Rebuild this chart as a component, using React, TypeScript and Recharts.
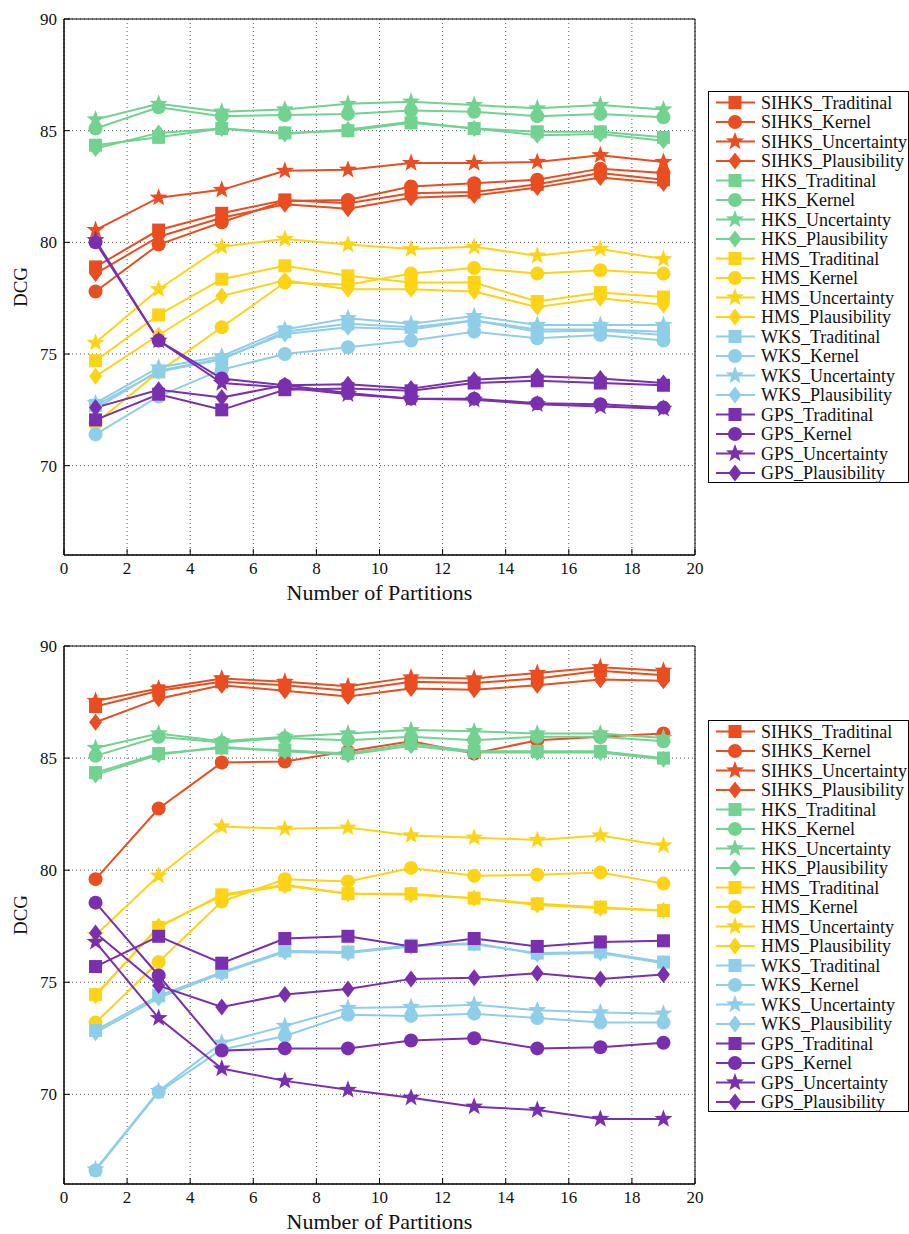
import { LineChart, Line, XAxis, YAxis, CartesianGrid, ReferenceArea, Legend } from 'recharts';

type Shape = 'square' | 'circle' | 'star' | 'diamond';

const X_VALUES = [1, 3, 5, 7, 9, 11, 13, 15, 17, 19];
const X_TICKS = [0, 2, 4, 6, 8, 10, 12, 14, 16, 18, 20];
const Y_TICKS = [70, 75, 80, 85, 90];
const Y_DOMAIN = [66, 90];

const METHODS = ['SIHKS', 'HKS', 'HMS', 'WKS', 'GPS'];
const VARIANTS = ['Traditinal', 'Kernel', 'Uncertainty', 'Plausibility'];
const SHAPES: Shape[] = ['square', 'circle', 'star', 'diamond'];
const COLORS = ['#E94D20', '#72D290', '#FCD415', '#8FCEE9', '#7A2FAE'];

const FONT = '"Liberation Serif", "Times New Roman", serif';

// rows: Traditinal, Kernel, Uncertainty, Plausibility
const TOP_SIHKS = [
  [78.9, 80.55, 81.3, 81.9, 81.75, 82.2, 82.25, 82.6, 83.1, 82.8],
  [77.8, 79.9, 80.9, 81.85, 81.9, 82.5, 82.65, 82.8, 83.3, 83.1],
  [80.55, 82.0, 82.35, 83.2, 83.25, 83.55, 83.55, 83.6, 83.9, 83.6],
  [78.6, 80.25, 81.1, 81.7, 81.5, 82.0, 82.1, 82.45, 82.9, 82.65],
];
const TOP_HKS = [
  [84.35, 84.7, 85.1, 84.9, 85.0, 85.35, 85.1, 84.95, 84.95, 84.7],
  [85.1, 86.05, 85.65, 85.7, 85.75, 85.9, 85.85, 85.65, 85.75, 85.6],
  [85.5, 86.2, 85.85, 85.95, 86.2, 86.3, 86.15, 86.0, 86.15, 85.95],
  [84.2, 84.9, 85.1, 84.85, 85.05, 85.4, 85.1, 84.8, 84.85, 84.55],
];
const TOP_HMS = [
  [74.7, 76.75, 78.35, 78.95, 78.5, 78.2, 78.2, 77.35, 77.75, 77.55],
  [71.9, 74.2, 76.2, 78.2, 78.1, 78.6, 78.85, 78.6, 78.75, 78.6],
  [75.5, 77.9, 79.8, 80.15, 79.9, 79.7, 79.8, 79.4, 79.7, 79.25],
  [74.0, 75.85, 77.6, 78.3, 77.9, 77.9, 77.8, 77.1, 77.5, 77.2],
];
const TOP_WKS = [
  [72.7, 74.2, 74.75, 76.0, 76.35, 76.2, 76.5, 76.1, 76.1, 76.0],
  [71.4, 73.1, 74.3, 75.0, 75.3, 75.6, 76.0, 75.7, 75.85, 75.6],
  [72.8, 74.4, 74.9, 76.1, 76.6, 76.35, 76.7, 76.3, 76.3, 76.3],
  [72.55, 74.25, 74.8, 75.9, 76.2, 76.1, 76.5, 76.0, 76.05, 75.85],
];
const TOP_GPS = [
  [72.05, 73.2, 72.5, 73.4, 73.45, 73.35, 73.7, 73.8, 73.7, 73.6],
  [80.0, 75.6, 73.9, 73.6, 73.25, 73.0, 73.0, 72.8, 72.75, 72.6],
  [80.1, 75.6, 73.7, 73.5, 73.2, 73.0, 72.95, 72.75, 72.65, 72.55],
  [72.6, 73.4, 73.05, 73.6, 73.65, 73.45, 73.85, 74.0, 73.9, 73.7],
];

const BOTTOM_SIHKS = [
  [87.3, 88.0, 88.4, 88.25, 88.0, 88.4, 88.35, 88.55, 88.9, 88.7],
  [79.6, 82.75, 84.8, 84.85, 85.3, 85.75, 85.2, 85.8, 85.95, 86.1],
  [87.55, 88.1, 88.55, 88.4, 88.2, 88.6, 88.55, 88.8, 89.05, 88.9],
  [86.6, 87.65, 88.25, 88.0, 87.75, 88.1, 88.05, 88.25, 88.5, 88.45],
];
const BOTTOM_HKS = [
  [84.35, 85.2, 85.45, 85.35, 85.2, 85.65, 85.3, 85.3, 85.3, 85.0],
  [85.1, 85.95, 85.7, 85.9, 85.8, 85.95, 85.8, 85.95, 85.95, 85.75],
  [85.45, 86.1, 85.75, 85.95, 86.1, 86.25, 86.2, 86.1, 86.1, 85.9],
  [84.25, 85.15, 85.5, 85.3, 85.15, 85.55, 85.25, 85.25, 85.25, 84.95],
];
const BOTTOM_HMS = [
  [74.45, 77.45, 78.9, 79.35, 78.95, 78.95, 78.75, 78.5, 78.35, 78.2],
  [73.2, 75.9, 78.6, 79.6, 79.5, 80.1, 79.75, 79.8, 79.9, 79.4],
  [77.1, 79.75, 81.95, 81.85, 81.9, 81.55, 81.45, 81.35, 81.55, 81.1],
  [74.4, 77.5, 78.85, 79.3, 78.95, 78.9, 78.75, 78.45, 78.3, 78.2],
];
const BOTTOM_WKS = [
  [72.85, 74.4, 75.45, 76.4, 76.35, 76.65, 76.7, 76.3, 76.35, 75.9],
  [66.6, 70.1, 72.0, 72.6, 73.55, 73.5, 73.6, 73.4, 73.2, 73.2],
  [66.65, 70.15, 72.3, 73.05, 73.85, 73.9, 74.0, 73.75, 73.65, 73.6],
  [72.75, 74.3, 75.4, 76.35, 76.3, 76.6, 76.75, 76.25, 76.3, 75.85],
];
const BOTTOM_GPS = [
  [75.7, 77.05, 75.85, 76.95, 77.05, 76.6, 76.95, 76.6, 76.8, 76.85],
  [78.55, 75.3, 71.95, 72.05, 72.05, 72.4, 72.5, 72.05, 72.1, 72.3],
  [76.8, 73.4, 71.15, 70.6, 70.2, 69.85, 69.45, 69.3, 68.9, 68.9],
  [77.2, 74.85, 73.9, 74.45, 74.7, 75.15, 75.2, 75.4, 75.15, 75.35],
];

interface Series {
  key: string;
  color: string;
  shape: Shape;
  values: number[];
}

function buildSeries(groups: number[][][]): Series[] {
  return groups.flatMap((rows, m) =>
    rows.map((values, v) => ({
      key: `${METHODS[m]}_${VARIANTS[v]}`,
      color: COLORS[m],
      shape: SHAPES[v],
      values,
    })),
  );
}

function starPath(cx: number, cy: number, R: number, r: number) {
  let d = '';
  for (let i = 0; i < 10; i++) {
    const rad = i % 2 === 0 ? R : r;
    const a = -Math.PI / 2 + (i * Math.PI) / 5;
    d += (i ? 'L' : 'M') + (cx + rad * Math.cos(a)).toFixed(2) + ' ' + (cy + rad * Math.sin(a)).toFixed(2);
  }
  return d + 'Z';
}

function Marker({ cx, cy, shape, color }: { cx?: number; cy?: number; shape: Shape; color: string }) {
  if (cx == null || cy == null) return null;
  switch (shape) {
    case 'square':
      return <rect x={cx - 6.5} y={cy - 6.5} width={13} height={13} fill={color} />;
    case 'circle':
      return <circle cx={cx} cy={cy} r={7} fill={color} />;
    case 'star':
      return <path d={starPath(cx, cy, 9.5, 3.9)} fill={color} />;
    default:
      return (
        <path
          d={`M ${cx} ${cy - 8.5} L ${cx + 6.5} ${cy} L ${cx} ${cy + 8.5} L ${cx - 6.5} ${cy} Z`}
          fill={color}
        />
      );
  }
}

function LegendBox({ series }: { series: Series[] }) {
  return (
    <svg width={199} height={392} style={{ overflow: 'visible', display: 'block' }}>
      <rect x={0.5} y={0.5} width={200} height={391} fill="#fff" stroke="#000" />
      {series.map((s, i) => {
        const y = 11.5 + i * 19.5;
        return (
          <g key={s.key}>
            <line x1={8} x2={47} y1={y} y2={y} stroke={s.color} strokeWidth={2} />
            <Marker cx={27} cy={y} shape={s.shape} color={s.color} />
            <text x={53} y={y} dy="0.35em" fontSize={18} fontFamily={FONT} fill="#111">
              {s.key}
            </text>
          </g>
        );
      })}
    </svg>
  );
}

interface ChartProps {
  groups: number[][][];
  top: number;
  marginTop: number;
  marginBottom: number;
  legendTop: number;
}

function DcgChart({ groups, top, marginTop, marginBottom, legendTop }: ChartProps) {
  const series = buildSeries(groups);
  const data = X_VALUES.map((x, i) => {
    const row: Record<string, number> = { x };
    series.forEach((s) => {
      row[s.key] = s.values[i];
    });
    return row;
  });
  const tickStyle = { fill: '#111', fontSize: 17, fontFamily: FONT, style: { fontFamily: FONT } };

  return (
    <div style={{ position: 'absolute', left: 0, top, width: 909, height: 617, fontFamily: FONT }}>
      <LineChart
        width={909}
        height={617}
        data={data}
        style={{ fontFamily: FONT }}
        margin={{ top: marginTop, right: 214, bottom: marginBottom, left: 0 }}
      >
        <CartesianGrid stroke="#555" strokeDasharray="1 3" />
        <XAxis
          dataKey="x"
          type="number"
          domain={[0, 20]}
          ticks={X_TICKS}
          interval={0}
          height={50}
          stroke="#000"
          tickSize={-6}
          tickMargin={13}
          tick={tickStyle}
          label={{
            value: 'Number of Partitions',
            position: 'insideBottom',
            offset: 5,
            fill: '#111',
            fontSize: 22,
            fontFamily: FONT,
            style: { fontFamily: FONT },
          }}
        />
        <XAxis
          xAxisId="top"
          orientation="top"
          type="number"
          domain={[0, 20]}
          ticks={X_TICKS}
          height={0}
          stroke="#000"
          tickSize={-6}
          tickFormatter={() => ''}
        />
        <YAxis
          type="number"
          domain={Y_DOMAIN}
          ticks={Y_TICKS}
          interval={0}
          width={64}
          stroke="#000"
          tickSize={-6}
          tickMargin={13}
          tick={tickStyle}
          label={{
            value: 'DCG',
            angle: -90,
            position: 'insideLeft',
            offset: 20,
            fill: '#111',
            fontSize: 19,
            fontFamily: FONT,
            style: { textAnchor: 'middle', fontFamily: FONT },
          }}
        />
        <YAxis
          yAxisId="right"
          orientation="right"
          type="number"
          domain={Y_DOMAIN}
          ticks={Y_TICKS}
          width={0}
          stroke="#000"
          tickSize={-6}
          tickFormatter={() => ''}
        />
        <ReferenceArea x1={0} x2={20} y1={66} y2={90} fill="none" stroke="#000" strokeWidth={1} />
        {series.map((s) => (
          <Line
            key={s.key}
            dataKey={s.key}
            stroke={s.color}
            strokeWidth={2}
            isAnimationActive={false}
            activeDot={false}
            dot={(p: any) => (
              <Marker key={`${s.key}-${p.index}`} cx={p.cx} cy={p.cy} shape={s.shape} color={s.color} />
            )}
          />
        ))}
        <Legend
          layout="vertical"
          align="center"
          verticalAlign="middle"
          wrapperStyle={{ left: 708, top: legendTop, width: 199, height: 392 }}
          content={() => <LegendBox series={series} />}
        />
      </LineChart>
    </div>
  );
}

export default function App() {
  return (
    <div style={{ position: 'absolute', left: 0, top: 0, width: 909, height: 1234, background: '#fff' }}>
      <DcgChart
        groups={[TOP_SIHKS, TOP_HKS, TOP_HMS, TOP_WKS, TOP_GPS]}
        top={0}
        marginTop={19}
        marginBottom={12}
        legendTop={91}
      />
      <DcgChart
        groups={[BOTTOM_SIHKS, BOTTOM_HKS, BOTTOM_HMS, BOTTOM_WKS, BOTTOM_GPS]}
        top={617}
        marginTop={29}
        marginBottom={0}
        legendTop={103}
      />
    </div>
  );
}
